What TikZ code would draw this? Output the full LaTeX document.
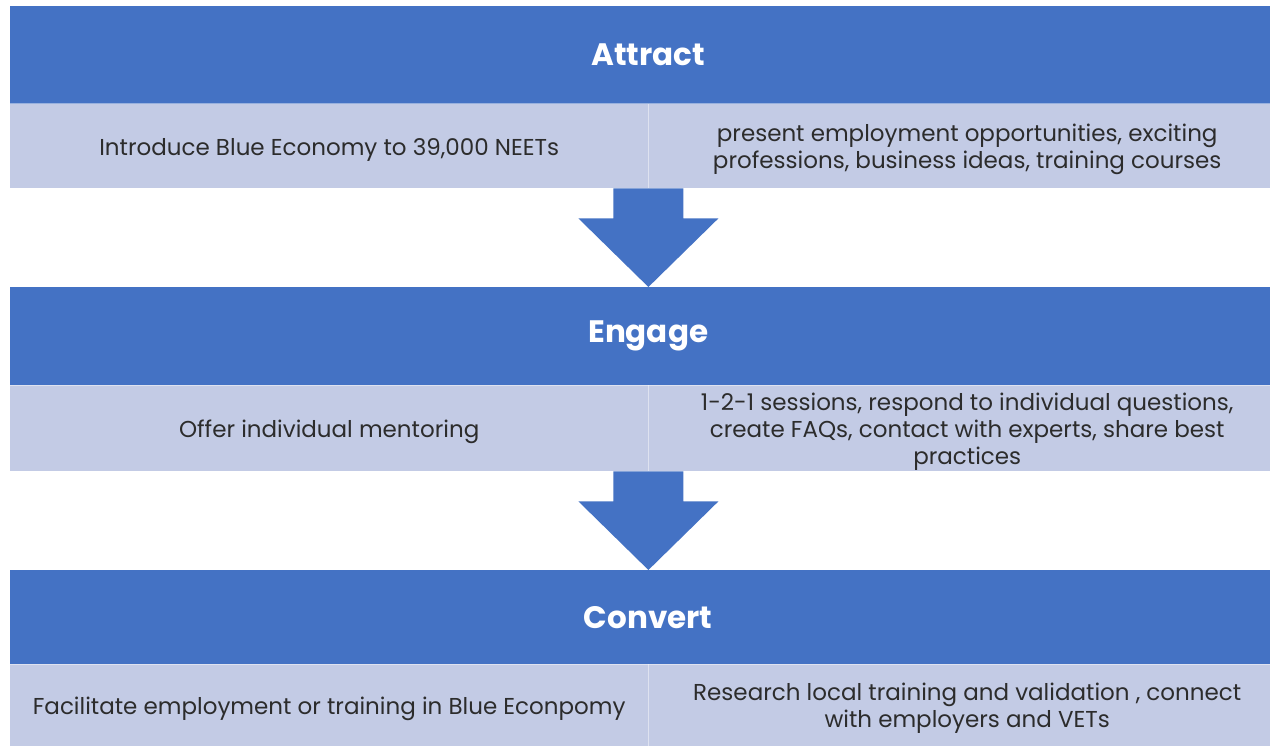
\documentclass[tikz,border=0pt]{standalone}
\usepackage{fontspec}
\setmainfont{Poppins}
\usetikzlibrary{calc}
\definecolor{hdrblue}{HTML}{4472C4}
\definecolor{cellblue}{HTML}{C3CBE5}
\definecolor{txtgray}{HTML}{2C2C2C}
\begin{document}
\begin{tikzpicture}[x=1pt,y=-1pt,
  hdr/.style={fill=hdrblue, text=white, font=\bfseries\fontsize{31}{36}\selectfont,
    anchor=north west, inner sep=0pt, minimum width=1276pt},
  cell/.style={fill=cellblue, anchor=north west, inner sep=0pt, minimum width=638pt},
  celltext/.style={text=txtgray, font=\fontsize{23}{27}\selectfont, align=center,
    inner sep=0pt, yshift=-3.5pt},
  sep/.style={draw=white, opacity=0.45, line width=1pt},
  blockarrow/.style={fill=hdrblue}
]
\useasboundingbox (0,0) rectangle (1270,746);
\clip (0,0) rectangle (1270,746);
\fill[white] (0,0) rectangle (1270,746);

% Attract
\node[hdr, minimum height=98pt] (h1) at (10,6) {Attract};
\node[cell, minimum height=84pt,
  label={[celltext]center:{Introduce Blue Economy to 39,000 NEETs}}] (l1) at (10,104) {};
\node[cell, minimum height=84pt,
  label={[celltext]center:{present employment opportunities, exciting\\professions, business ideas, training courses}}] (r1) at (648,104) {};

% Engage
\node[hdr, minimum height=98pt] (h2) at (10,287) {Engage};
\node[cell, minimum height=86pt,
  label={[celltext]center:{Offer individual mentoring}}] (l2) at (10,385) {};
\node[cell, minimum height=86pt,
  label={[celltext]center:{1-2-1 sessions, respond to individual questions,\\create FAQs, contact with experts, share best\\practices}}] (r2) at (648,385) {};

% Convert
\node[hdr, minimum height=94pt] (h3) at (10,570) {Convert};
\node[cell, minimum height=82pt,
  label={[celltext]center:{Facilitate employment or training in Blue Econpomy}}] (l3) at (10,664) {};
\node[cell, minimum height=82pt,
  label={[celltext]center:{Research local training and validation , connect\\with employers and VETs}}] (r3) at (648,664) {};

% faint separators
\foreach \l/\r in {l1/r1,l2/r2,l3/r3}{
  \draw[sep] (\r.north west) -- (\r.south west);
  \draw[sep] (\l.north west) -- (\r.north east);
}

% block arrows
\coordinate (a1s) at (l1.south east);
\coordinate (a1t) at (h2.north -| a1s);
\fill[blockarrow] ($(a1s)+(-35,0)$) -- ($(a1s)+(35,0)$) -- ($(a1s)+(35,30)$) -- ($(a1s)+(70,30)$)
  -- (a1t) -- ($(a1s)+(-70,30)$) -- ($(a1s)+(-35,30)$) -- cycle;
\coordinate (a2s) at (l2.south east);
\coordinate (a2t) at (h3.north -| a2s);
\fill[blockarrow] ($(a2s)+(-35,0)$) -- ($(a2s)+(35,0)$) -- ($(a2s)+(35,30)$) -- ($(a2s)+(70,30)$)
  -- (a2t) -- ($(a2s)+(-70,30)$) -- ($(a2s)+(-35,30)$) -- cycle;
\end{tikzpicture}
\end{document}
